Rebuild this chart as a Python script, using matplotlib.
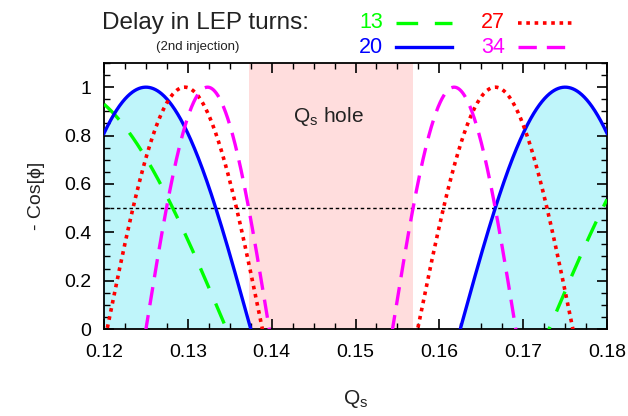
import numpy as np
import matplotlib
matplotlib.use("Agg")
import matplotlib.pyplot as plt
from matplotlib.ticker import MultipleLocator
from matplotlib.lines import Line2D

plt.rcParams['font.family'] = ['Liberation Sans', 'DejaVu Sans']

# ---- data ----
delays = [13, 20, 27, 34]                 # delay in LEP turns (2nd injection)
colors = ['#00ff00', '#0000ff', '#ff0000', '#ff00ff']
qs_range = [0.12, 0.18]
hole = [0.1373, 0.1569]                   # Qs hole limits
ref_level = 0.5
filled_delay = 20

qs = np.linspace(qs_range[0], qs_range[1], 1201)
def response(n):
    # -cos(phi), phi = 2*pi*N*Qs
    return -np.cos(2 * np.pi * n * qs)

styles = {
    13: dict(linestyle=(0, (6.5, 5)), linewidth=2.4),
    20: dict(linestyle='-', linewidth=2.4),
    27: dict(linestyle=(0, (1, 1.3)), linewidth=2.6, dash_capstyle='butt'),
    34: dict(linestyle=(0, (5.5, 3)), linewidth=2.4),
}

fig = plt.figure(figsize=(6.28, 4.16), dpi=100)
ax = fig.add_axes([0.1656, 0.2091, 0.801, 0.6395])

ax.axvspan(hole[0], hole[1], color='#ffdddd', lw=0, zorder=0)
yb = response(filled_delay)
ax.fill_between(qs, 0, yb, where=yb > 0, color='#bff5fa', lw=0, zorder=1)
ax.axhline(ref_level, color='black', lw=1.0, linestyle=(0, (2.5, 2)), zorder=2)

for n, c in zip(delays, colors):
    ax.plot(qs, response(n), color=c, zorder=3, **styles[n])

ax.text(0.1468, 0.877, r'Q$_\mathregular{s}$ hole', fontsize=15, ha='center', va='center',
        color='#222222', zorder=4)

ax.set_xlim(*qs_range)
ax.set_ylim(0, 1.1)
ax.xaxis.set_major_locator(MultipleLocator(0.01))
ax.xaxis.set_minor_locator(MultipleLocator(0.0025))
ax.yaxis.set_major_locator(MultipleLocator(0.2))
ax.yaxis.set_minor_locator(MultipleLocator(0.05))
ax.set_xticklabels([f'{v:.2f}' for v in ax.get_xticks()])
ax.set_yticks([0, 0.2, 0.4, 0.6, 0.8, 1.0])
ax.set_yticklabels(['0', '0.2', '0.4', '0.6', '0.8', '1'])
ax.tick_params(which='both', direction='in', top=True, right=True, labelsize=14, colors='black')
ax.tick_params(which='major', length=7, width=1.2)
ax.tick_params(which='minor', length=4, width=1.0)
ax.tick_params(axis='x', pad=11)
ax.tick_params(axis='y', pad=9)
for s in ax.spines.values():
    s.set_linewidth(1.3)

ax.set_xlabel(r'Q$_\mathregular{s}$', fontsize=15, labelpad=19, color='#222222')
ax.set_ylabel('- Cos[ϕ]', fontsize=14, labelpad=14, color='#222222')

# header legend
fig.text(0.327, 0.945, 'Delay in LEP turns:', fontsize=17.5, ha='center', va='center', color='#222222')
fig.text(0.315, 0.888, '(2nd injection)', fontsize=9.5, ha='center', va='center', color='#222222')
pos = {13: (0.61, 0.945), 27: (0.804, 0.945), 20: (0.61, 0.887), 34: (0.804, 0.887)}
for n, c in zip(delays, colors):
    x, y = pos[n]
    fig.text(x, y, str(n), fontsize=15.5, ha='right', va='center', color=c)
    st = dict(styles[n])
    fig.add_artist(Line2D([x + 0.021, x + 0.110], [y, y], color=c,
                          transform=fig.transFigure, **st))

fig.savefig('out.png', dpi=100)
